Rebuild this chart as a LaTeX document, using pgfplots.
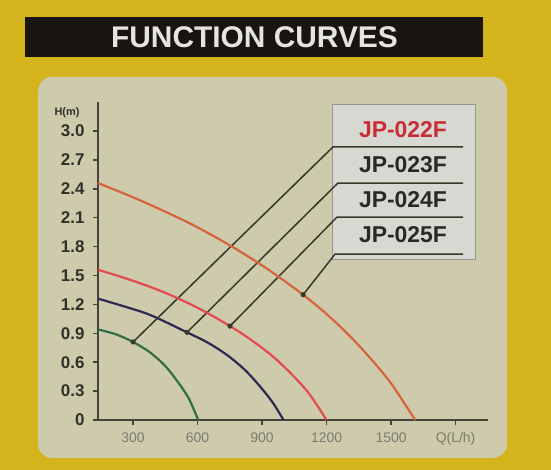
\documentclass[border=0pt]{standalone}
\usepackage{pgfplots}
\pgfplotsset{compat=1.18}
\usepackage{fontspec}
\setmainfont{Liberation Sans}
\definecolor{bgyellow}{RGB}{212,180,28}
\definecolor{panel}{RGB}{206,202,172}
\definecolor{titlebar}{RGB}{25,20,15}
\definecolor{titletext}{RGB}{228,228,225}
\definecolor{legfill}{RGB}{216,216,210}
\definecolor{legborder}{RGB}{150,150,145}
\definecolor{cOrange}{RGB}{214,100,60}
\definecolor{cRed}{RGB}{226,76,76}
\definecolor{cBlue}{RGB}{45,42,80}
\definecolor{cGreen}{RGB}{50,110,70}
\definecolor{axisc}{RGB}{70,68,55}
\definecolor{leader}{RGB}{55,55,40}
\definecolor{ylab}{RGB}{50,48,40}
\definecolor{xlab}{RGB}{125,122,110}
\definecolor{legred}{RGB}{200,45,55}
\definecolor{legdark}{RGB}{40,40,40}
\begin{document}
\begin{tikzpicture}[x=1bp,y=1bp]
\fill[bgyellow] (0,0) rectangle (551,470);
\fill[titlebar] (25,413) rectangle (483,453);
\node[text=titletext, font=\bfseries\fontsize{30}{30}\selectfont] at (254.5,432.5) {FUNCTION CURVES};
\fill[panel, rounded corners=14bp] (38,12) rectangle (507,393);
\draw[legborder, fill=legfill, line width=1bp] (332,210) rectangle (475,365);
\node[text=legred, font=\bfseries\fontsize{23}{23}\selectfont] at (403,340) {JP-022F};
\node[text=legdark, font=\bfseries\fontsize{23}{23}\selectfont] at (403,305) {JP-023F};
\node[text=legdark, font=\bfseries\fontsize{23}{23}\selectfont] at (403,270) {JP-024F};
\node[text=legdark, font=\bfseries\fontsize{23}{23}\selectfont] at (403,235) {JP-025F};
\node[text=ylab, font=\bfseries\fontsize{11}{11}\selectfont] at (67,357) {H(m)};
\begin{axis}[
  at={(98bp,50bp)}, anchor=south west, scale only axis,
  width=389.8bp, height=317.9bp,
  xmin=137, xmax=1950, ymin=0, ymax=3.3,
  axis x line=bottom, axis y line=left,
  axis line style={-, draw=axisc, line width=2.2bp},
  clip=false,
  xtick={300,600,900,1200,1500,1800},
  xticklabels={300,600,900,1200,1500,Q(L/h)},
  ytick={0,0.3,0.6,0.9,1.2,1.5,1.8,2.1,2.4,2.7,3.0},
  yticklabels={0,0.3,0.6,0.9,1.2,1.5,1.8,2.1,2.4,2.7,3.0},
  tick align=outside, major tick length=5bp,
  tick style={draw=axisc, line width=1.5bp},
  /pgf/number format/assume math mode=true,
  xticklabel style={font=\fontsize{14}{14}\selectfont, text=xlab, yshift=-4bp},
  yticklabel style={font=\bfseries\fontsize{17}{17}\selectfont, text=ylab, xshift=-5bp},
]
% leader lines
\draw[leader, line width=1.5bp] (axis cs:300,0.81) -- (axis cs:1230,2.834) -- (axis cs:1835,2.834);
\draw[leader, line width=1.5bp] (axis cs:551,0.91) -- (axis cs:1253,2.46) -- (axis cs:1835,2.46);
\draw[leader, line width=1.5bp] (axis cs:751,0.975) -- (axis cs:1249,2.107) -- (axis cs:1835,2.107);
\draw[leader, line width=1.5bp] (axis cs:1091,1.30) -- (axis cs:1240,1.723) -- (axis cs:1835,1.723);
% curves
\addplot[cOrange, line width=2.2bp, smooth] coordinates {
 (137,2.46) (333,2.28) (565,2.04) (760,1.80) (930,1.56) (1091,1.30)
 (1200,1.10) (1300,0.89) (1400,0.65) (1500,0.38) (1612,0)};
\addplot[cRed, line width=2.2bp, smooth] coordinates {
 (137,1.56) (300,1.445) (450,1.32) (600,1.165) (751,0.975) (850,0.83)
 (950,0.66) (1040,0.47) (1120,0.27) (1200,0)};
\addplot[cBlue, line width=2.2bp, smooth] coordinates {
 (137,1.26) (250,1.185) (380,1.09) (551,0.91) (650,0.80) (740,0.67)
 (820,0.52) (890,0.35) (950,0.18) (1000,0)};
\addplot[cGreen, line width=2.2bp, smooth] coordinates {
 (137,0.94) (220,0.89) (300,0.81) (380,0.70) (450,0.56) (510,0.39)
 (560,0.22) (603,0)};
% dots at leader ends
\addplot[only marks, mark=*, mark size=2.3bp, leader] coordinates {
 (300,0.81) (551,0.91) (751,0.975) (1091,1.30)};
\end{axis}
\end{tikzpicture}
\end{document}
